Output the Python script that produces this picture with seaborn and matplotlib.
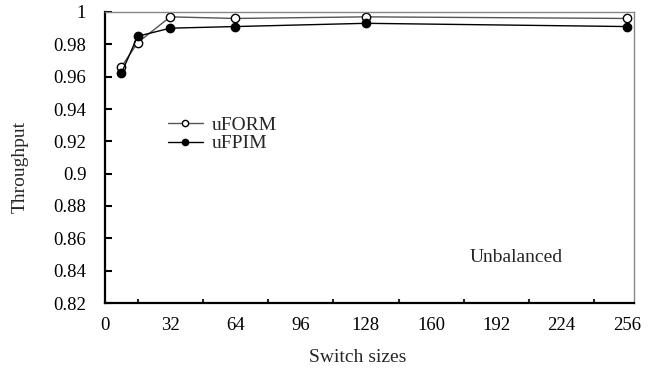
import matplotlib
matplotlib.use("Agg")
import matplotlib.pyplot as plt
import seaborn as sns
import pandas as pd
from matplotlib.ticker import MultipleLocator, FixedLocator, FuncFormatter
from matplotlib.lines import Line2D

sns.set_theme(style="white")
plt.rcParams['font.family'] = ['Liberation Serif', 'DejaVu Serif']

sizes = [8, 16, 32, 64, 128, 256]
uform = [0.966, 0.981, 0.997, 0.996, 0.997, 0.996]
ufpim = [0.962, 0.985, 0.990, 0.991, 0.993, 0.991]
series_names = ["uFORM", "uFPIM"]
x_ticks = [0, 32, 64, 96, 128, 160, 192, 224, 256]
y_ticks = [0.82, 0.84, 0.86, 0.88, 0.9, 0.92, 0.94, 0.96, 0.98, 1.0]

df = pd.DataFrame({
    "size": sizes * 2,
    "throughput": uform + ufpim,
    "series": [series_names[0]] * len(sizes) + [series_names[1]] * len(sizes),
})

fig = plt.figure(figsize=(6.62, 3.71), dpi=100)
ax = fig.add_axes([105/662, 1 - 303/371, (634 - 105)/662, (303 - 12)/371])

sub1 = df[df.series == "uFORM"]
sub2 = df[df.series == "uFPIM"]
sns.lineplot(data=sub1, x="size", y="throughput", ax=ax, color="#555555", lw=1.0,
             marker="o", markersize=6, markerfacecolor="white", markeredgecolor="black",
             markeredgewidth=1.0, legend=False)
sns.lineplot(data=sub2, x="size", y="throughput", ax=ax, color="black", lw=1.0,
             marker="o", markersize=6, markerfacecolor="black", markeredgecolor="black",
             markeredgewidth=1.0, legend=False)

ax.set_xlim(0, 259.5)
ax.set_ylim(0.82, 1.0)
ax.xaxis.set_major_locator(FixedLocator(x_ticks))
ax.xaxis.set_minor_locator(MultipleLocator(16))
ax.yaxis.set_major_locator(FixedLocator(y_ticks))

def yfmt(v, pos):
    return f"{v:.2f}".rstrip("0").rstrip(".")
ax.yaxis.set_major_formatter(FuncFormatter(yfmt))

ax.tick_params(axis="both", which="major", direction="in", length=5, width=1.5,
               labelsize=13.5, colors="black")
ax.tick_params(axis="x", which="minor", direction="in", length=3, width=1.5, bottom=True)
ax.tick_params(axis="x", which="both", top=False)
ax.tick_params(axis="y", which="both", right=False, left=True)
ax.tick_params(axis="y", which="major", pad=13.5)
ax.tick_params(axis="x", which="major", pad=10)

for side in ["left", "bottom"]:
    ax.spines[side].set_color("black")
    ax.spines[side].set_linewidth(1.6)
for side in ["top", "right"]:
    ax.spines[side].set_color("#888888")
    ax.spines[side].set_linewidth(1.0)
    ax.spines[side].set_visible(True)

ax.set_xlabel("Switch sizes", fontsize=14)
ax.set_ylabel("Throughput", fontsize=14)
ax.xaxis.set_label_coords((358 - 105) / 529, -(358 - 303) / 291)
ax.yaxis.set_label_coords(-(105 - 20) / 529, (303 - 167) / 291)
ax.xaxis.label.set_va("center")
ax.yaxis.label.set_va("center")

handles = [
    Line2D([], [], color="#555555", lw=1.0, marker="o", markersize=4.5,
           markerfacecolor="white", markeredgecolor="black"),
    Line2D([], [], color="black", lw=1.0, marker="o", markersize=4.5,
           markerfacecolor="black", markeredgecolor="black"),
]
ax.legend(handles, series_names, loc="upper left", bbox_to_anchor=(0.086, 0.702),
          frameon=False, fontsize=14, handlelength=1.8, handletextpad=0.46,
          labelspacing=0.05)

ax.text(0.778, 0.155, "Unbalanced", transform=ax.transAxes, ha="center", va="center",
        fontsize=14)

fig.savefig("out.png", dpi=100)
